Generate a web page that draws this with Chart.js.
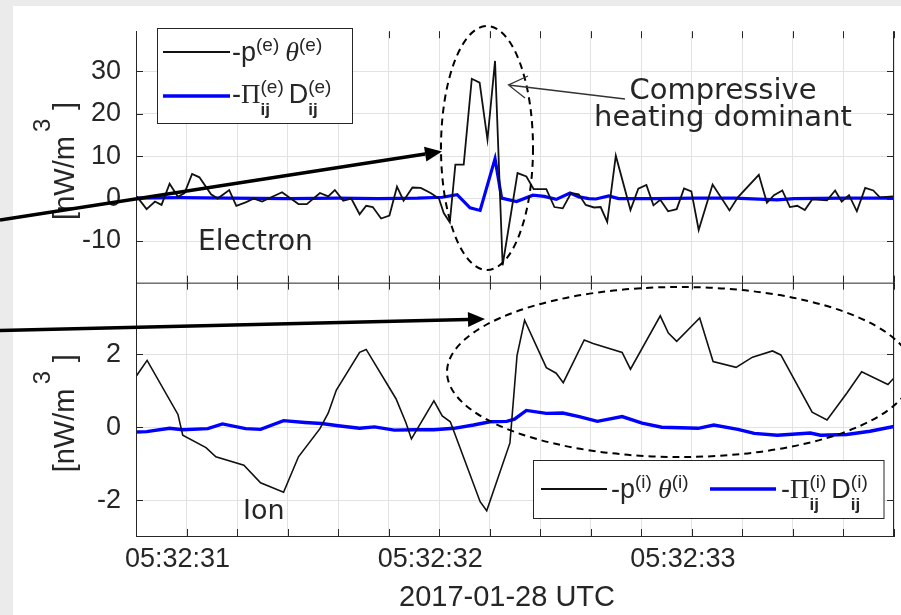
<!DOCTYPE html>
<html>
<head>
<meta charset="utf-8">
<script src="https://cdn.jsdelivr.net/npm/chart.js@4.4.1/dist/chart.umd.min.js"></script>
<style>
  html, body { margin: 0; padding: 0; background: #ebebeb; }
  canvas { display: block; }
</style>
</head>
<body>
<canvas id="heating-chart" width="901" height="615"></canvas>
<script>
// times are seconds after 05:32:30 UTC
const elecTimeP = [30.803, 30.842, 30.875, 30.901, 30.933, 30.966, 30.992, 31.022, 31.051, 31.097,
  31.123, 31.169, 31.197, 31.234, 31.267, 31.299, 31.378, 31.443, 31.476, 31.528,
  31.561, 31.587, 31.620, 31.652, 31.685, 31.711, 31.737, 31.770, 31.803, 31.833,
  31.859, 31.894, 31.927, 31.966, 31.999, 32.018, 32.042, 32.064, 32.097, 32.129,
  32.160, 32.191, 32.221, 32.251, 32.310, 32.345, 32.374, 32.424, 32.456, 32.489,
  32.522, 32.552, 32.580, 32.613, 32.639, 32.665, 32.699, 32.757, 32.788, 32.820,
  32.848, 32.875, 32.906, 32.940, 32.969, 32.998, 33.027, 33.082, 33.149, 33.182,
  33.265, 33.297, 33.325, 33.358, 33.388, 33.417, 33.447, 33.476, 33.535, 33.567,
  33.593, 33.622, 33.653, 33.686, 33.718, 33.744, 33.796]
const elecP = [0.5, -2.5, -0.7, -1.5, 3.5, 0.4, 1.3, 5.8, 5.0, 1.0,
  0, 2.0, -1.7, -0.9, 0, -0.7, 1.5, -1.3, -1.3, 1.3,
  0.5, 2.0, -0.5, 0, -3.7, -1.7, -2.0, -4.7, -4.0, 2.8,
  -0.5, 2.6, 2.5, 1.3, 0, -3.4, -5.6, 8.0, 8.0, 28.2,
  27.3, 13.9, 32.4, -15.7, 6.0, 5.2, 2.2, 2.2, -2.0, -2.3,
  1.3, 1.0, -1.5, -2.1, -2.0, -5.5, 10.1, -2.7, 2.3, 3.2,
  -1.6, -0.3, -3.0, -2.5, 2.4, 1.7, -7.4, 3.3, -2.8, 0.3,
  5.6, -1.0, 0.8, 1.9, -2.0, -1.7, -2.7, -0.2, -0.4, 1.9,
  -0.7, 0.8, -3.0, 2.5, 1.9, 0.3, 0.5]

const elecTimeD = [30.800, 30.973, 31.169, 31.404, 31.600, 31.757, 31.914, 32.012, 32.071, 32.122,
  32.162, 32.221, 32.247, 32.306, 32.371, 32.416, 32.463, 32.518, 32.553, 32.592,
  32.620, 32.671, 32.710, 32.855, 33.012, 33.169, 33.337, 33.404, 33.600, 33.796]
const elecD = [0.1, 0.2, 0.1, 0.0, 0.1, 0.0, 0.1, 0.3, 0.9, -2.2,
  -2.8, 9.4, 0.1, -0.7, 0.8, 0.5, -0.2, 1.3, 0.4, 0.0,
  -0.1, 0.6, 0.0, 0.0, 0.1, 0.1, -0.3, 0.0, 0.1, 0.1]

const ionTimeP = [30.800, 30.844, 30.966, 30.985, 31.077, 31.116, 31.227, 31.293, 31.384, 31.443,
  31.528, 31.561, 31.593, 31.685, 31.711, 31.829, 31.868, 31.890, 31.979, 32.012,
  32.044, 32.162, 32.188, 32.280, 32.308, 32.338, 32.424, 32.463, 32.491, 32.574,
  32.609, 32.724, 32.757, 32.875, 32.907, 32.940, 33.031, 33.084, 33.175, 33.240,
  33.319, 33.352, 33.476, 33.535, 33.613, 33.672, 33.776, 33.800]
const ionP = [1.39, 1.83, 0.35, -0.22, -0.56, -0.81, -1.04, -1.52, -1.78, -0.81,
  -0.04, 0.39, 1.02, 2.05, 2.13, 0.78, 0.13, -0.32, 0.72, 0.31,
  0.15, -2.04, -2.29, -0.43, 1.96, 2.93, 1.63, 1.48, 1.22, 2.39,
  2.29, 2.05, 1.59, 3.05, 2.58, 2.35, 2.99, 1.80, 1.64, 1.92,
  2.09, 1.98, 0.41, 0.20, 0.93, 1.52, 1.17, 1.35]

const ionTimeD = [30.800, 30.842, 30.933, 30.985, 31.084, 31.142, 31.234, 31.293, 31.384, 31.469,
  31.535, 31.600, 31.685, 31.744, 31.822, 31.901, 31.979, 32.058, 32.136, 32.201,
  32.267, 32.298, 32.345, 32.424, 32.489, 32.554, 32.626, 32.724, 32.803, 32.881,
  33.025, 33.087, 33.182, 33.247, 33.338, 33.469, 33.509, 33.613, 33.705, 33.800]
const ionD = [-0.13, -0.12, -0.03, -0.07, -0.04, 0.09, -0.04, -0.06, 0.18, 0.13,
  0.10, 0.04, -0.03, 0.01, -0.08, -0.07, -0.07, -0.03, 0.06, 0.15,
  0.16, 0.22, 0.46, 0.38, 0.39, 0.29, 0.16, 0.29, 0.11, 0.00,
  -0.03, 0.06, -0.06, -0.17, -0.22, -0.16, -0.22, -0.20, -0.11, 0.02]

const topTicks = [-10, 0, 10, 20, 30]
const bottomTicks = [-2, 0, 2]
const timeTicks = [31, 32, 33]
const timeTickLabels = ["05:32:31", "05:32:32", "05:32:33"]

const ink = "#262626"
const gridColor = "#e2e2e2"
const tickFont = { family: "'Liberation Sans', Arial, sans-serif", size: 27 }

let pairs = (xs, ys) => xs.map((x, i) => ({ x: x, y: ys[i] }))

// text with sub/superscripts; keep=true means the next piece starts at the same x
let rich = (ctx, x, y, parts) => {
  let cx = x, hold = 0
  for (let p of parts) {
    if (p.gap) { cx += p.gap; continue }
    ctx.font = p.f
    ctx.fillText(p.t, cx, y + (p.dy || 0))
    let w = ctx.measureText(p.t).width
    if (p.keep) { hold = Math.max(hold, w); continue }
    cx += Math.max(hold, w)
    hold = 0
  }
}

let arrow = (ctx, x0, y0, x1, y1, lw, len, half) => {
  let a = Math.atan2(y1 - y0, x1 - x0)
  let bx = x1 - len * Math.cos(a), by = y1 - len * Math.sin(a)
  ctx.lineWidth = lw
  ctx.beginPath()
  ctx.moveTo(x0, y0)
  ctx.lineTo(bx, by)
  ctx.stroke()
  ctx.beginPath()
  ctx.moveTo(x1, y1)
  ctx.lineTo(bx + half * Math.sin(a), by - half * Math.cos(a))
  ctx.lineTo(bx - half * Math.sin(a), by + half * Math.cos(a))
  ctx.closePath()
  ctx.fill()
}

let yTitle = (ctx, cy) => {
  ctx.save()
  ctx.translate(74, cy + 63)
  ctx.rotate(-Math.PI / 2)
  ctx.textAlign = "left"
  ctx.font = "29px 'Liberation Sans'"
  ctx.fillText("[nW/m", 0, 0)
  ctx.font = "24px 'Liberation Sans'"
  ctx.fillText("3", 88, -24)
  ctx.font = "29px 'Liberation Sans'"
  ctx.fillText("]", 110, 0)
  ctx.restore()
}

const M = "27px 'Liberation Sans'"
const SUP = "19px 'Liberation Sans'"
const SUB = "bold 17px 'Liberation Sans'"
const TH = "italic 28px 'Liberation Serif'"
const PI = "27px 'Liberation Serif'"

let legendP = (s) => [{ t: "-p", f: M }, { t: "(" + s + ")", f: SUP, dy: -10 }, { gap: 6 },
  { t: "\u03b8", f: TH }, { t: "(" + s + ")", f: SUP, dy: -10 }]
let legendD = (s) => [{ t: "-", f: M }, { t: "\u03a0", f: PI },
  { t: "(" + s + ")", f: SUP, dy: -10, keep: true }, { t: "ij", f: SUB, dy: 12 }, { gap: 5 },
  { t: "D", f: M }, { t: "(" + s + ")", f: SUP, dy: -10, keep: true }, { t: "ij", f: SUB, dy: 12 }]

const decor = {
  id: "decor",
  beforeDraw(chart) {
    let ctx = chart.ctx
    ctx.save()
    ctx.fillStyle = "#ebebeb"
    ctx.fillRect(0, 0, chart.width, chart.height)
    ctx.fillStyle = "#ffffff"
    ctx.fillRect(13, 6, chart.width - 13, chart.height - 6)
    ctx.restore()
  },
  afterDraw(chart) {
    let ctx = chart.ctx
    let { left, right, bottom } = chart.chartArea
    let yT = chart.scales.yTop, yB = chart.scales.yBot, xs = chart.scales.x
    ctx.save()

    // panel frames and inward tick marks
    ctx.strokeStyle = ink
    ctx.lineWidth = 1
    ctx.beginPath()
    ctx.moveTo(left + 0.5, yT.top); ctx.lineTo(left + 0.5, bottom)
    ctx.moveTo(right - 0.5, yT.top); ctx.lineTo(right - 0.5, bottom)
    ctx.moveTo(left, yT.bottom + 0.5); ctx.lineTo(right, yT.bottom + 0.5)
    ctx.moveTo(left, bottom + 0.5); ctx.lineTo(right, bottom + 0.5)
    for (let t of xs.ticks) {
      let px = Math.round(xs.getPixelForValue(t.value)) + 0.5
      for (let s of [yT, yB]) {
        ctx.moveTo(px, s.top); ctx.lineTo(px, s.top + 7)
        ctx.moveTo(px, s.bottom); ctx.lineTo(px, s.bottom - 7)
      }
    }
    for (let s of [yT, yB]) {
      for (let t of s.ticks) {
        let py = Math.round(s.getPixelForValue(t.value)) + 0.5
        ctx.moveTo(left, py); ctx.lineTo(left + 7, py)
        ctx.moveTo(right, py); ctx.lineTo(right - 7, py)
      }
    }
    ctx.stroke()

    // axis titles
    ctx.fillStyle = ink
    yTitle(ctx, (yT.top + yT.bottom) / 2)
    yTitle(ctx, (yB.top + yB.bottom) / 2)
    ctx.font = "29px 'Liberation Sans'"
    ctx.textAlign = "center"
    ctx.fillText("2017-01-28 UTC", 507, 606)

    // dashed ellipses
    ctx.strokeStyle = "#000"
    ctx.lineWidth = 2
    ctx.setLineDash([7, 5])
    ctx.beginPath()
    ctx.ellipse(487, 148, 46, 122, 0, 0, Math.PI * 2)
    ctx.stroke()
    ctx.beginPath()
    ctx.ellipse(680, 372, 233, 85, 0, 0, Math.PI * 2)
    ctx.stroke()
    ctx.setLineDash([])

    // legends
    ctx.textAlign = "left"
    ctx.fillStyle = "#fff"
    ctx.strokeStyle = ink
    ctx.lineWidth = 1
    ctx.fillRect(157.5, 28.5, 195, 95)
    ctx.strokeRect(157.5, 28.5, 195, 95)
    ctx.fillRect(533.5, 460.5, 350.5, 58)
    ctx.strokeRect(533.5, 460.5, 350.5, 58)
    let sample = (x0, x1, y, color, lw) => {
      ctx.strokeStyle = color
      ctx.lineWidth = lw
      ctx.beginPath(); ctx.moveTo(x0, y); ctx.lineTo(x1, y); ctx.stroke()
    }
    sample(163, 230, 52, "#111", 1.8)
    sample(163, 230, 96, "#0000ff", 3.5)
    sample(541, 607, 489, "#111", 1.8)
    sample(710, 776, 489, "#0000ff", 3.5)
    ctx.fillStyle = ink
    rich(ctx, 232, 61, legendP("e"))
    rich(ctx, 232, 103, legendD("e"))
    rich(ctx, 611, 498, legendP("i"))
    rich(ctx, 781, 498, legendD("i"))

    // labels
    ctx.font = "28px 'DejaVu Sans'"
    ctx.fillText("Electron", 198, 250)
    ctx.font = "27px 'DejaVu Sans'"
    ctx.fillText("Ion", 243, 519)
    ctx.font = "29px 'DejaVu Sans'"
    ctx.textAlign = "center"
    ctx.fillText("Compressive", 723, 99)
    ctx.fillText("heating dominant", 723, 126)

    // thin pointer with open head
    ctx.strokeStyle = "#333"
    ctx.lineWidth = 1.3
    ctx.beginPath()
    ctx.moveTo(625, 99); ctx.lineTo(508.5, 85)
    ctx.moveTo(528, 76); ctx.lineTo(508.5, 85); ctx.lineTo(525, 98)
    ctx.stroke()

    // thick arrows from outside the figure
    ctx.strokeStyle = "#000"
    ctx.fillStyle = "#000"
    arrow(ctx, 0, 220, 442, 151.5, 3.5, 17, 7.5)
    arrow(ctx, 0, 330.5, 485, 319, 3.5, 17, 7.5)
    ctx.restore()
  }
}

let yAxis = (min, max, weight, ticks) => ({
  type: "linear",
  position: "left",
  stack: "panels",
  stackWeight: weight,
  min: min,
  max: max,
  afterBuildTicks: (s) => { s.ticks = ticks.map(v => ({ value: v })) },
  afterFit: (s) => { s.width = 136 },
  ticks: { font: tickFont, color: ink, padding: 15 },
  grid: { color: gridColor, drawTicks: false },
  border: { color: ink }
})

var ctx1 = document.getElementById("heating-chart").getContext("2d")
var chart1 = new Chart(ctx1, {
  type: "line",
  data: {
    datasets: [{
      label: "-p(e) theta(e)",
      data: pairs(elecTimeP, elecP),
      yAxisID: "yTop",
      borderColor: "#111",
      borderWidth: 1.8
    }, {
      label: "-Pi_ij(e) D_ij(e)",
      data: pairs(elecTimeD, elecD),
      yAxisID: "yTop",
      borderColor: "#0000ff",
      borderWidth: 3.2
    }, {
      label: "-p(i) theta(i)",
      data: pairs(ionTimeP, ionP),
      yAxisID: "yBot",
      borderColor: "#111",
      borderWidth: 1.6
    }, {
      label: "-Pi_ij(i) D_ij(i)",
      data: pairs(ionTimeD, ionD),
      yAxisID: "yBot",
      borderColor: "#0000ff",
      borderWidth: 3.4
    }]
  },
  options: {
    responsive: false,
    animation: false,
    layout: { padding: { left: 0, top: 6, right: 1, bottom: 0 } },
    elements: { point: { radius: 0 }, line: { tension: 0 } },
    plugins: { legend: { display: false }, tooltip: { enabled: false } },
    scales: {
      x: {
        type: "linear",
        min: 30.8,
        max: 33.8,
        afterFit: (s) => { s.height = 79 },
        ticks: {
          stepSize: 0.2,
          autoSkip: false,
          maxRotation: 0,
          labelOffset: -9,
          padding: 7,
          font: tickFont,
          color: ink,
          callback: (v) => {
            let i = timeTicks.findIndex(t => Math.abs(t - v) < 1e-6)
            return i < 0 ? "" : timeTickLabels[i]
          }
        },
        grid: { color: gridColor, drawTicks: false },
        border: { color: ink }
      },
      yBot: yAxis(-2.98, 3.96, 266, bottomTicks),
      yTop: yAxis(-19.8, 39.4, 264, topTicks)
    }
  },
  plugins: [decor]
})
</script>
</body>
</html>
